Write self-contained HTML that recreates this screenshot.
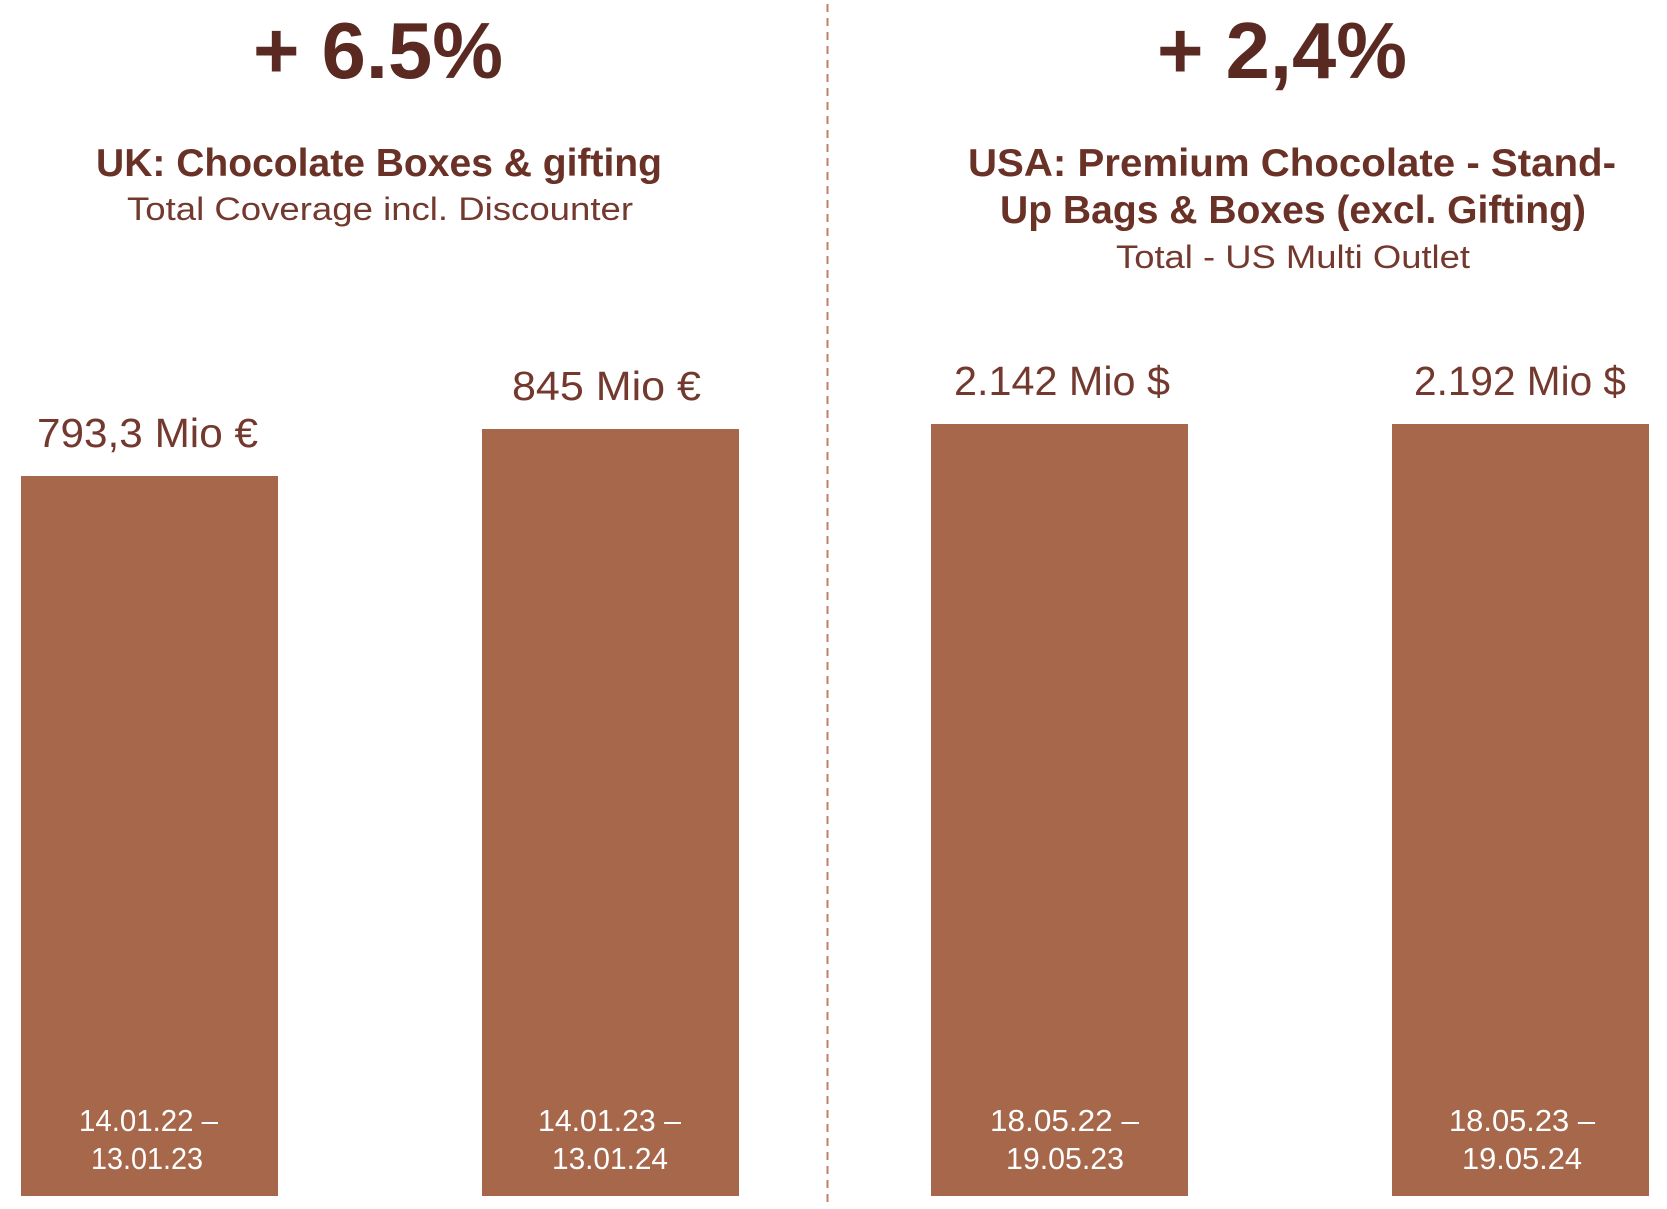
<!DOCTYPE html>
<html>
<head>
<meta charset="utf-8">
<style>
  html,body{margin:0;padding:0;background:#fff;}
  svg{display:block;}
  text{font-family:"Liberation Sans", sans-serif;}
</style>
</head>
<body>
<svg width="1667" height="1209" viewBox="0 0 1667 1209" xmlns="http://www.w3.org/2000/svg">
  <rect x="0" y="0" width="1667" height="1209" fill="#ffffff"/>

  <!-- divider -->
  <line x1="827.5" y1="4" x2="827.5" y2="1204" stroke="#C47F60" stroke-width="2" stroke-dasharray="8,6"/>

  <!-- Bars -->
  <rect x="21" y="476" width="257" height="720" fill="#A6674A"/>
  <rect x="482" y="429" width="257" height="767" fill="#A6674A"/>
  <rect x="931" y="424" width="257" height="772" fill="#A6674A"/>
  <rect x="1392" y="424" width="257" height="772" fill="#A6674A"/>

  <!-- Big percentages -->
  <text x="253" y="78" font-size="80" font-weight="bold" fill="#5A2A22" textLength="250" lengthAdjust="spacingAndGlyphs">+ 6.5%</text>
  <text x="1157" y="78" font-size="80" font-weight="bold" fill="#5A2A22" textLength="250" lengthAdjust="spacingAndGlyphs">+ 2,4%</text>

  <!-- Left headings -->
  <text x="96" y="176" font-size="39" font-weight="bold" fill="#6A3127" textLength="566" lengthAdjust="spacingAndGlyphs">UK: Chocolate Boxes &amp; gifting</text>
  <text x="127" y="220" font-size="32" fill="#74392E" textLength="506" lengthAdjust="spacingAndGlyphs">Total Coverage incl. Discounter</text>

  <!-- Right headings -->
  <text x="968" y="176" font-size="39" font-weight="bold" fill="#6A3127" textLength="648" lengthAdjust="spacingAndGlyphs">USA: Premium Chocolate - Stand-</text>
  <text x="1000" y="223" font-size="39" font-weight="bold" fill="#6A3127" textLength="586" lengthAdjust="spacingAndGlyphs">Up Bags &amp; Boxes (excl. Gifting)</text>
  <text x="1116" y="268" font-size="32" fill="#74392E" textLength="354" lengthAdjust="spacingAndGlyphs">Total - US Multi Outlet</text>

  <!-- Value labels -->
  <text x="37" y="447" font-size="41" fill="#74392E" textLength="221" lengthAdjust="spacingAndGlyphs">793,3 Mio €</text>
  <text x="512" y="400" font-size="41" fill="#74392E" textLength="189" lengthAdjust="spacingAndGlyphs">845 Mio €</text>
  <text x="954" y="395" font-size="41" fill="#74392E" textLength="216" lengthAdjust="spacingAndGlyphs">2.142 Mio $</text>
  <text x="1414" y="395" font-size="41" fill="#74392E" textLength="212" lengthAdjust="spacingAndGlyphs">2.192 Mio $</text>

  <!-- Date labels -->
  <text x="79" y="1131" font-size="31" fill="#ffffff" textLength="139" lengthAdjust="spacingAndGlyphs">14.01.22 –</text>
  <text x="91" y="1169" font-size="31" fill="#ffffff" textLength="112" lengthAdjust="spacingAndGlyphs">13.01.23</text>

  <text x="538" y="1131" font-size="31" fill="#ffffff" textLength="143" lengthAdjust="spacingAndGlyphs">14.01.23 –</text>
  <text x="552" y="1169" font-size="31" fill="#ffffff" textLength="116" lengthAdjust="spacingAndGlyphs">13.01.24</text>

  <text x="990" y="1131" font-size="31" fill="#ffffff" textLength="149" lengthAdjust="spacingAndGlyphs">18.05.22 –</text>
  <text x="1006" y="1169" font-size="31" fill="#ffffff" textLength="118" lengthAdjust="spacingAndGlyphs">19.05.23</text>

  <text x="1449" y="1131" font-size="31" fill="#ffffff" textLength="146" lengthAdjust="spacingAndGlyphs">18.05.23 –</text>
  <text x="1462" y="1169" font-size="31" fill="#ffffff" textLength="120" lengthAdjust="spacingAndGlyphs">19.05.24</text>
</svg>
</body>
</html>
